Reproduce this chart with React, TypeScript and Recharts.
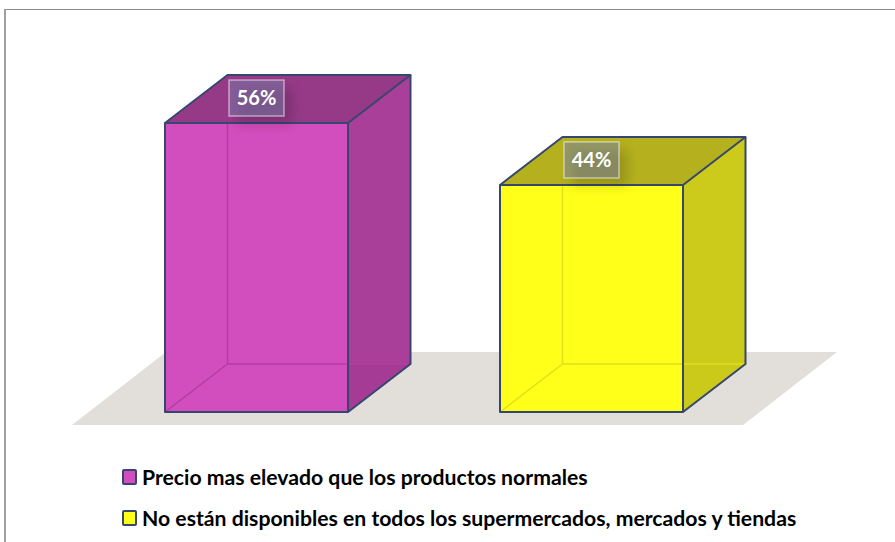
import React from "react";
import { BarChart, Bar, XAxis, YAxis, Legend, LabelList, Customized } from "recharts";

const WIDTH = 895;
const HEIGHT = 542;
const FONT = "Lato, sans-serif";

// Bars
const categories = ["Precio", "Disponibilidad"];
const priceName = "Precio mas elevado que los productos normales";
const availabilityName = "No están disponibles en todos los supermercados, mercados y tiendas";
const priceValues = [56, null];
const availabilityValues = [null, 44];
const valueDomain = [0, 60];

const chartData = categories.map((category, i) => ({
  category,
  price: priceValues[i],
  availability: availabilityValues[i],
}));

// Oblique projection used for the depth of each box
const DEPTH_X = 62.5;
const DEPTH_Y = 48;
const EDGE = "#36476f";

type Palette = { front: string; side: string; top: string; hidden: string; under: string };
const magenta: Palette = {
  front: "#d24dbd",
  side: "#a93f98",
  top: "#963a88",
  hidden: "#b03ea0",
  under: "#a53b94",
};
const yellow: Palette = {
  front: "#ffff19",
  side: "#cccb1b",
  top: "#b4b01e",
  hidden: "#e0df18",
  under: "#cbca1a",
};

const pts = (list: number[][]) => list.map((p) => p.join(",")).join(" ");

function Box(props: any, c: Palette) {
  const { x, y, width, height } = props;
  if (!height) return null;
  const r = x + width;
  const b = y + height;
  const dx = DEPTH_X;
  const dy = DEPTH_Y;
  return (
    <g>
      <polygon points={pts([[x, y], [x + dx, y - dy], [r + dx, y - dy], [r, y]])} fill={c.top} />
      <polygon points={pts([[r, y], [r + dx, y - dy], [r + dx, b - dy], [r, b]])} fill={c.side} />
      <polygon points={pts([[r, b - dy], [r + dx, b - dy], [r, b]])} fill={c.under} />
      <rect x={x} y={y} width={width} height={height} fill={c.front} />
      {/* edges seen through the faces */}
      <g stroke={c.hidden} strokeWidth={1.4} fill="none">
        <line x1={x + dx} y1={y} x2={x + dx} y2={b - dy} />
        <line x1={x + dx} y1={b - dy} x2={r + dx} y2={b - dy} />
        <line x1={x + dx} y1={b - dy} x2={x} y2={b} />
      </g>
      <g stroke={EDGE} strokeWidth={2} fill="none" strokeLinejoin="round">
        <rect x={x} y={y} width={width} height={height} />
        <polyline points={pts([[x, y], [x + dx, y - dy], [r + dx, y - dy], [r, y]])} />
        <polyline points={pts([[r + dx, y - dy], [r + dx, b - dy], [r, b]])} />
      </g>
    </g>
  );
}

function ValueTag(props: any) {
  const { x, y, width, value } = props;
  if (value == null) return null;
  const cx = x + width / 2;
  const w = 55;
  const h = 36;
  const top = y - 43;
  return (
    <g>
      <rect
        x={cx - w / 2 + 8}
        y={top + 8}
        width={w}
        height={h}
        fill="#000"
        opacity={0.16}
        filter="url(#tagShadow)"
      />
      <rect
        x={cx - w / 2}
        y={top}
        width={w}
        height={h}
        fill="rgb(118,128,170)"
        fillOpacity={0.5}
        stroke="#fff"
        strokeOpacity={0.5}
        strokeWidth={1.5}
      />
      <text
        x={cx}
        y={top + h / 2 + 7}
        textAnchor="middle"
        fontFamily={FONT}
        fontWeight={700}
        fontSize={20}
        fill="#fff"
      >
        {value}%
      </text>
    </g>
  );
}

function Floor() {
  return (
    <polygon points={pts([[166, 352], [837, 352], [743, 425], [72, 425]])} fill="#e2dfda" />
  );
}

function LegendList(props: any) {
  const items = props.payload ?? [];
  return (
    <div>
      {items.map((item: any) => (
        <div
          key={item.value}
          style={{ display: "flex", alignItems: "center", height: 41, whiteSpace: "nowrap" }}
        >
          <span
            style={{
              width: 11,
              height: 12,
              marginRight: 5,
              background: item.color,
              border: `2px solid ${EDGE}`,
              borderRadius: 2,
              boxSizing: "content-box",
            }}
          />
          <span style={{ fontFamily: FONT, fontWeight: 700, fontSize: 21.2, color: "#000" }}>
            {item.value}
          </span>
        </div>
      ))}
    </div>
  );
}

export default function App() {
  return (
    <div style={{ position: "absolute", left: 0, top: 0, width: WIDTH, height: HEIGHT, background: "#fff", overflow: "hidden" }}>
      <div style={{ position: "absolute", left: 4, top: 9, width: WIDTH - 4, height: 1, background: "#8a8a8a" }} />
      <div style={{ position: "absolute", left: 4, top: 9, width: 2, height: HEIGHT - 9, background: "#a0a0a0" }} />
      <BarChart
        width={WIDTH}
        height={HEIGHT}
        data={chartData}
        margin={{ top: 102.4, right: 136, bottom: 48, left: 89 }}
      >
        <defs>
          <filter id="tagShadow" x="-40%" y="-40%" width="180%" height="180%">
            <feGaussianBlur stdDeviation="6" />
          </filter>
        </defs>
        <XAxis dataKey="category" hide />
        <YAxis domain={valueDomain} hide />
        <Customized component={Floor} />
        <Legend
          content={LegendList}
          itemSorter={null}
          wrapperStyle={{ left: 122, top: 456, right: "auto", bottom: "auto", width: 720 }}
        />
        <Bar
          dataKey="price"
          name={priceName}
          stackId="boxes"
          barSize={183}
          fill={magenta.front}
          isAnimationActive={false}
          shape={(p: any) => Box(p, magenta)}
        >
          <LabelList dataKey="price" content={ValueTag} />
        </Bar>
        <Bar
          dataKey="availability"
          name={availabilityName}
          stackId="boxes"
          barSize={183}
          fill={yellow.front}
          isAnimationActive={false}
          shape={(p: any) => Box(p, yellow)}
        >
          <LabelList dataKey="availability" content={ValueTag} />
        </Bar>
      </BarChart>
    </div>
  );
}
